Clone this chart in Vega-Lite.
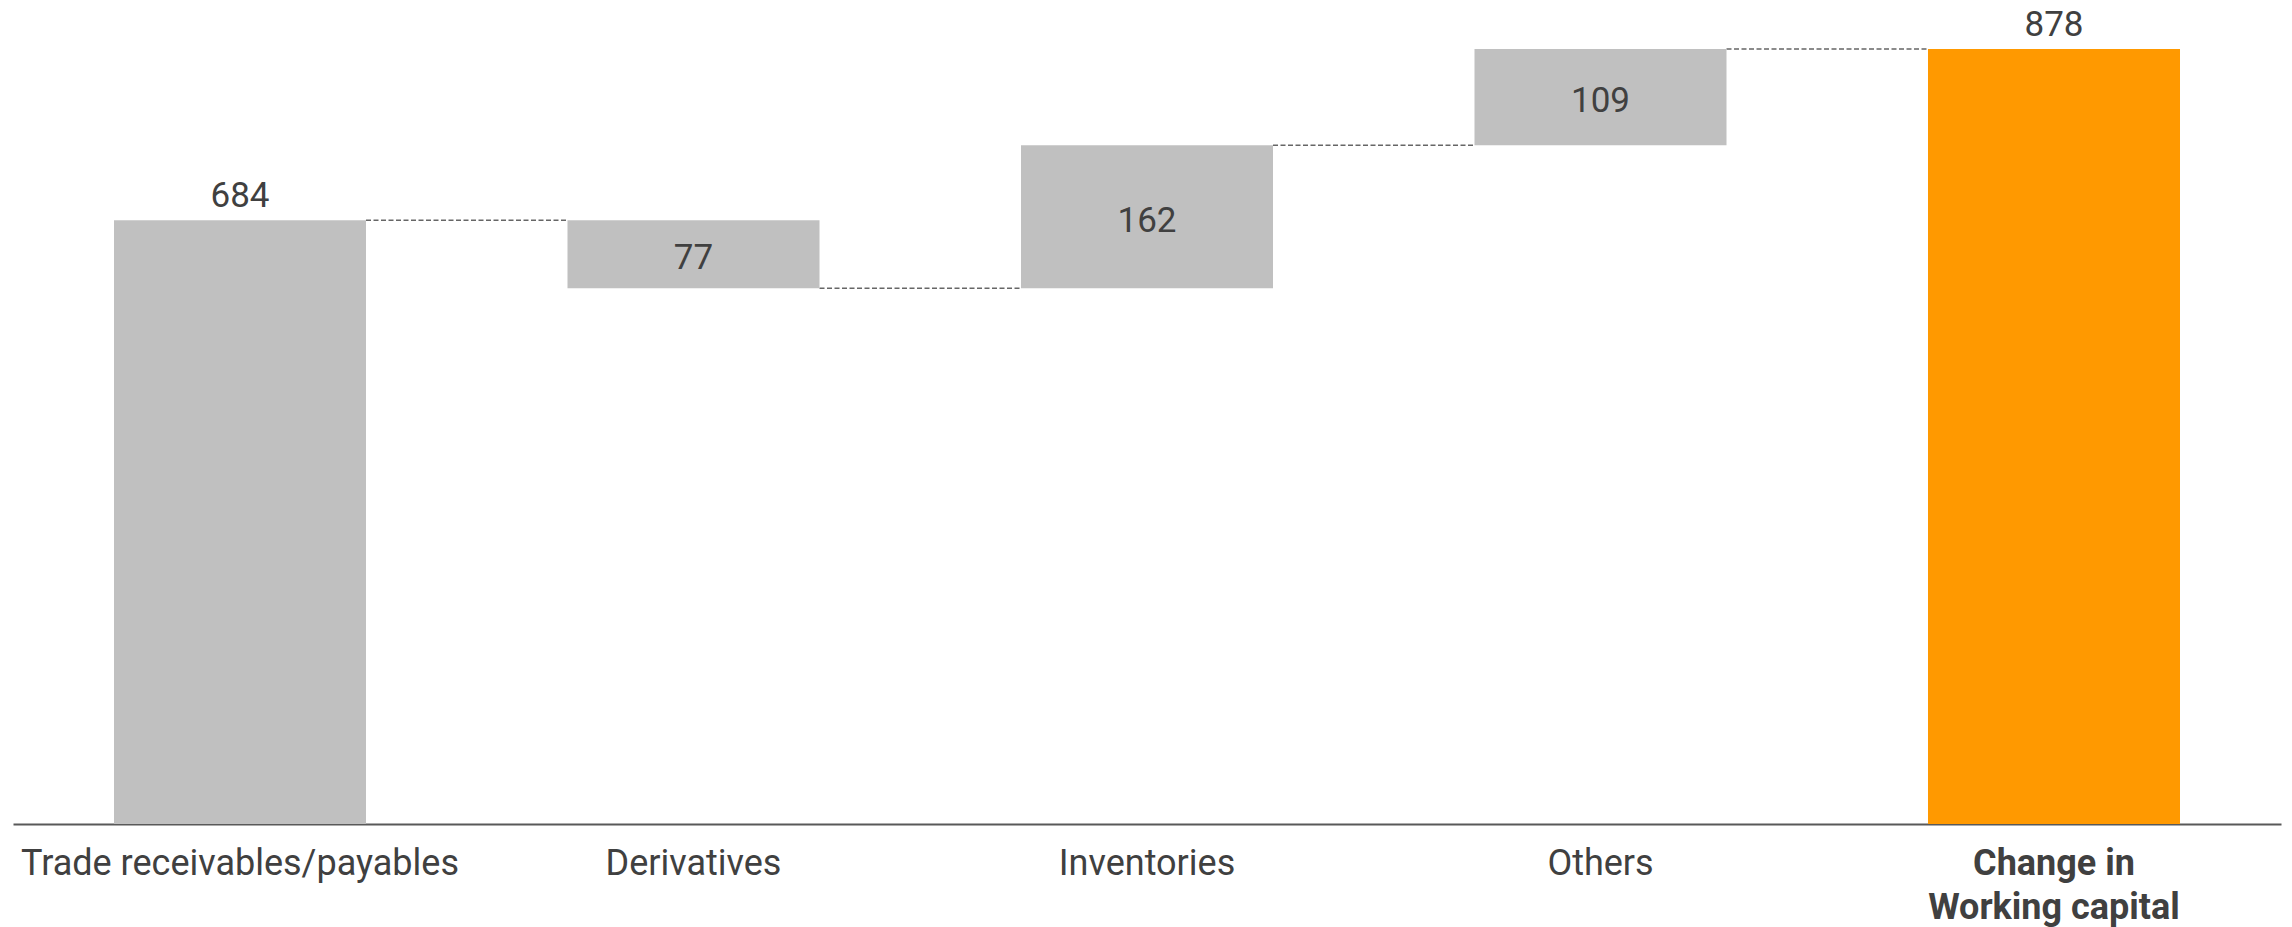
{
  "$schema": "https://vega.github.io/schema/vega-lite/v6.json",
  "autosize": {"type": "none"},
  "width": 2268,
  "height": 824,
  "padding": {"left": 13, "top": 0, "right": 11, "bottom": 103},
  "background": "white",
  "config": {
    "view": {"stroke": null},
    "font": "Roboto",
    "text": {"font": "Roboto"}
  },
  "title": {
    "text": "€ m",
    "anchor": "start",
    "frame": "group",
    "orient": "top",
    "offset": 0,
    "baseline": "alphabetic",
    "dy": 4,
    "dx": -8,
    "fontSize": 36,
    "fontWeight": "normal",
    "color": "#404040",
    "font": "Roboto"
  },
  "datasets": {
    "bars": [
      {"cat": "Trade receivables/payables", "start": 0, "end": 684, "label": "684", "kind": "start"},
      {"cat": "Derivatives", "start": 684, "end": 607, "label": "77", "kind": "delta"},
      {"cat": "Inventories", "start": 607, "end": 769, "label": "162", "kind": "delta"},
      {"cat": "Others", "start": 769, "end": 878, "label": "109", "kind": "delta"},
      {"cat": "Change in Working capital", "start": 0, "end": 878, "label": "878", "kind": "total"}
    ],
    "links": [
      {"from": "Trade receivables/payables", "to": "Derivatives", "level": 684},
      {"from": "Derivatives", "to": "Inventories", "level": 607},
      {"from": "Inventories", "to": "Others", "level": 769},
      {"from": "Others", "to": "Change in Working capital", "level": 878}
    ]
  },
  "encoding": {
    "x": {
      "type": "nominal",
      "scale": {
        "domain": ["Trade receivables/payables", "Derivatives", "Inventories", "Others", "Change in Working capital"],
        "paddingInner": 0.4443,
        "paddingOuter": 0.2227
      },
      "axis": {
        "title": null,
        "labelAngle": 0,
        "ticks": false,
        "grid": false,
        "domainColor": "#595959",
        "domainWidth": 2,
        "labelPadding": 22,
        "labelFontSize": 36,
        "labelFont": "Roboto",
        "labelColor": "#404040",
        "labelBaseline": "top",
        "labelLineHeight": 44,
        "labelLimit": 0,
        "labelExpr": "datum.value == 'Change in Working capital' ? ['Change in', 'Working capital'] : datum.value",
        "labelFontWeight": {"expr": "datum.value == 'Change in Working capital' ? 'bold' : 'normal'"}
      }
    }
  },
  "layer": [
    {
      "data": {"name": "links"},
      "mark": {"type": "rule", "strokeDash": [5, 2.5], "strokeWidth": 1.5, "color": "#666666"},
      "encoding": {
        "x": {"field": "from", "type": "nominal", "bandPosition": 1},
        "x2": {"field": "to", "bandPosition": 0},
        "y": {"field": "level", "type": "quantitative", "scale": {"domain": [0, 933.5], "nice": false}, "axis": null}
      }
    },
    {
      "data": {"name": "bars"},
      "mark": {"type": "bar", "strokeWidth": 0},
      "encoding": {
        "x": {"field": "cat", "type": "nominal"},
        "y": {"field": "start", "type": "quantitative", "axis": null},
        "y2": {"field": "end"},
        "color": {
          "field": "kind",
          "type": "nominal",
          "scale": {"domain": ["start", "delta", "total"], "range": ["#c0c0c0", "#c0c0c0", "#ff9900"]},
          "legend": null
        }
      }
    },
    {
      "data": {"name": "bars"},
      "transform": [{"filter": "datum.kind != 'delta'"}],
      "mark": {"type": "text", "baseline": "alphabetic", "dy": -13, "fontSize": 35, "color": "#404040"},
      "encoding": {
        "x": {"field": "cat", "type": "nominal"},
        "y": {"field": "end", "type": "quantitative", "axis": null},
        "text": {"field": "label"}
      }
    },
    {
      "data": {"name": "bars"},
      "transform": [
        {"filter": "datum.kind == 'delta'"},
        {"calculate": "(datum.start + datum.end) / 2", "as": "mid"}
      ],
      "mark": {"type": "text", "baseline": "middle", "dy": 4, "fontSize": 35, "color": "#404040"},
      "encoding": {
        "x": {"field": "cat", "type": "nominal"},
        "y": {"field": "mid", "type": "quantitative", "axis": null},
        "text": {"field": "label"}
      }
    }
  ]
}
